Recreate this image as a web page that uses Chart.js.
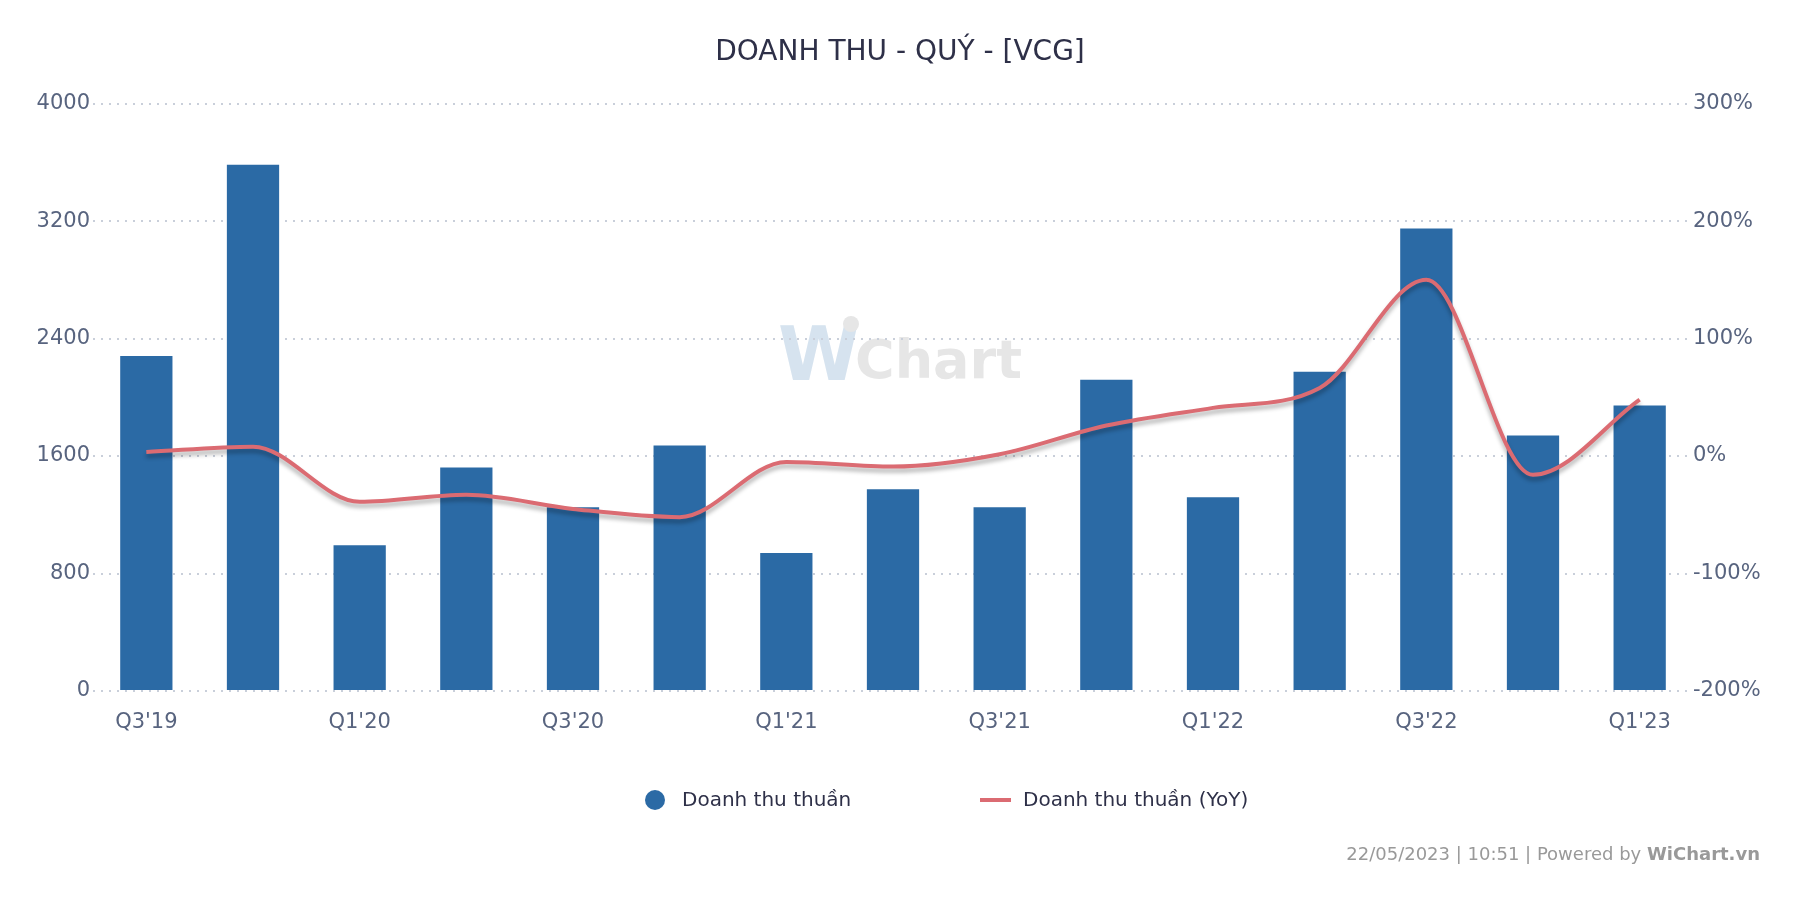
<!DOCTYPE html>
<html>
<head>
<meta charset="utf-8">
<script src="https://cdn.jsdelivr.net/npm/chart.js@4/dist/chart.umd.min.js"></script>
<style>
    html, body { margin: 0; padding: 0; background: #fff; }
    #wrap { width: 1800px; height: 900px; }
</style>
</head>
<body>
<div id="wrap"><canvas id="myChart" width="1800" height="900"></canvas></div>
<script>
const QUARTERS = ["Q3'19", "Q4'19", "Q1'20", "Q2'20", "Q3'20", "Q4'20", "Q1'21", "Q2'21",
    "Q3'21", "Q4'21", "Q1'22", "Q2'22", "Q3'22", "Q4'22", "Q1'23"];
const REVENUE = [2282, 3584, 993, 1522, 1251, 1671, 939, 1373, 1251, 2120, 1319, 2174, 3150, 1740, 1945];
const REVENUE_YOY = [3.5, 8, -39, -33, -45, -52, -5, -9, 1.5, 26, 41, 58, 150, -16, 48];

const LEFT_TICKS = [0, 800, 1600, 2400, 3200, 4000];
const RIGHT_TICKS = [-200, -100, 0, 100, 200, 300];

const FONT = "'DejaVu Sans', sans-serif";
const BAR_COLOUR = "#2b6aa5";
const LINE_COLOUR = "#db6b72";
const TICK_COLOUR = "#58647f";
const TEXT_COLOUR = "#2e3048";

// logo behind the grid
const watermark = {
    id: 'watermark',
    beforeDraw(chart) {
        const ctx = chart.ctx;
        ctx.save();
        ctx.textBaseline = 'alphabetic';
        ctx.fillStyle = '#d6e3ef';
        ctx.font = "bold 74px " + FONT;
        ctx.fillText("W", 778, 380);
        ctx.fillStyle = '#e6e6e6';
        ctx.beginPath();
        ctx.arc(851, 324, 8, 0, Math.PI * 2);
        ctx.fill();
        ctx.font = "bold 54px " + FONT;
        ctx.fillText("Chart", 855, 378);
        ctx.restore();
    }
};

// grey shadow under the YoY line
const lineShadow = {
    id: 'lineShadow',
    beforeDatasetDraw(chart, args) {
        if (args.index !== 1) return;
        const ctx = chart.ctx;
        ctx.save();
        ctx.shadowColor = 'rgba(0, 0, 0, 0.3)';
        ctx.shadowBlur = 4;
        ctx.shadowOffsetY = 4;
    },
    afterDatasetDraw(chart, args) {
        if (args.index !== 1) return;
        chart.ctx.restore();
    }
};

// legend + footer, drawn by hand so spacing follows the original
const legendAndFooter = {
    id: 'legendAndFooter',
    afterDraw(chart) {
        const ctx = chart.ctx;
        const ds = chart.data.datasets;
        const y = 800;
        ctx.save();
        ctx.font = "20px " + FONT;
        ctx.textBaseline = 'middle';
        ctx.textAlign = 'left';

        ctx.fillStyle = ds[0].backgroundColor;
        ctx.beginPath();
        ctx.arc(655, y, 10, 0, Math.PI * 2);
        ctx.fill();
        ctx.fillStyle = TEXT_COLOUR;
        ctx.fillText(ds[0].label, 682, y + 1);

        ctx.strokeStyle = ds[1].borderColor;
        ctx.lineWidth = 4;
        ctx.beginPath();
        ctx.moveTo(980, y);
        ctx.lineTo(1011, y);
        ctx.stroke();
        ctx.fillStyle = TEXT_COLOUR;
        ctx.fillText(ds[1].label, 1023, y + 1);

        // footer
        ctx.textAlign = 'right';
        ctx.fillStyle = '#999999';
        ctx.font = "bold 18px " + FONT;
        const brand = "WiChart.vn";
        const bw = ctx.measureText(brand).width;
        ctx.fillText(brand, 1760, 855);
        ctx.font = "18px " + FONT;
        ctx.fillText("22/05/2023 | 10:51 | Powered by ", 1760 - bw, 855);
        ctx.restore();
    }
};

function main() {
    const ctx = document.getElementById('myChart').getContext('2d');

    new Chart(ctx, {
        data: {
            labels: QUARTERS,
            datasets: [
                {
                    type: 'bar',
                    label: "Doanh thu thuần",
                    data: REVENUE,
                    backgroundColor: BAR_COLOUR,
                    yAxisID: 'y',
                    barPercentage: 0.49,
                    categoryPercentage: 1.0,
                    order: 1,
                },
                {
                    type: 'line',
                    label: "Doanh thu thuần (YoY)",
                    data: REVENUE_YOY,
                    borderColor: LINE_COLOUR,
                    backgroundColor: LINE_COLOUR,
                    borderWidth: 4,
                    pointRadius: 0,
                    cubicInterpolationMode: 'monotone',
                    yAxisID: 'y1',
                    order: 0,
                },
            ]
        },
        options: {
            responsive: false,
            animation: false,
            devicePixelRatio: 1,
            layout: { padding: { left: 0, right: 0, top: 0, bottom: 0 } },
            plugins: {
                legend: { display: false },
                tooltip: { enabled: false },
                title: {
                    display: true,
                    text: "DOANH THU - QUÝ - [VCG]",
                    color: TEXT_COLOUR,
                    font: { family: FONT, size: 28, weight: 'normal' },
                    padding: { top: 36, bottom: 34 },
                },
            },
            scales: {
                x: {
                    offset: true,
                    grid: { display: false, drawTicks: false },
                    border: { display: false },
                    ticks: {
                        autoSkip: false,
                        maxRotation: 0,
                        padding: 19,
                        color: TICK_COLOUR,
                        font: { family: FONT, size: 21 },
                        callback: (v, i) => (i % 2 === 0 ? QUARTERS[i] : ''),
                    },
                    afterFit: (scale) => { scale.height = 209; },
                },
                y: {
                    position: 'left',
                    min: LEFT_TICKS[0],
                    max: LEFT_TICKS[LEFT_TICKS.length - 1],
                    afterBuildTicks: (scale) => { scale.ticks = LEFT_TICKS.map(v => ({ value: v })); },
                    grid: {
                        color: '#c9cfda',
                        lineWidth: 2,
                        drawTicks: false,
                    },
                    border: { display: false, dash: [2, 6] },
                    ticks: {
                        padding: 3,
                        color: TICK_COLOUR,
                        font: { family: FONT, size: 21 },
                        callback: (v) => String(v),
                    },
                    afterFit: (scale) => { scale.width = 93; },
                },
                y1: {
                    position: 'right',
                    min: RIGHT_TICKS[0],
                    max: RIGHT_TICKS[RIGHT_TICKS.length - 1],
                    afterBuildTicks: (scale) => { scale.ticks = RIGHT_TICKS.map(v => ({ value: v })); },
                    grid: { display: false, drawTicks: false },
                    border: { display: false },
                    ticks: {
                        padding: 0,
                        color: TICK_COLOUR,
                        font: { family: FONT, size: 21 },
                        callback: (v) => v + '%',
                    },
                    afterFit: (scale) => { scale.width = 107; },
                },
            }
        },
        plugins: [watermark, lineShadow, legendAndFooter],
    });
}

main();
</script>
</body>
</html>
